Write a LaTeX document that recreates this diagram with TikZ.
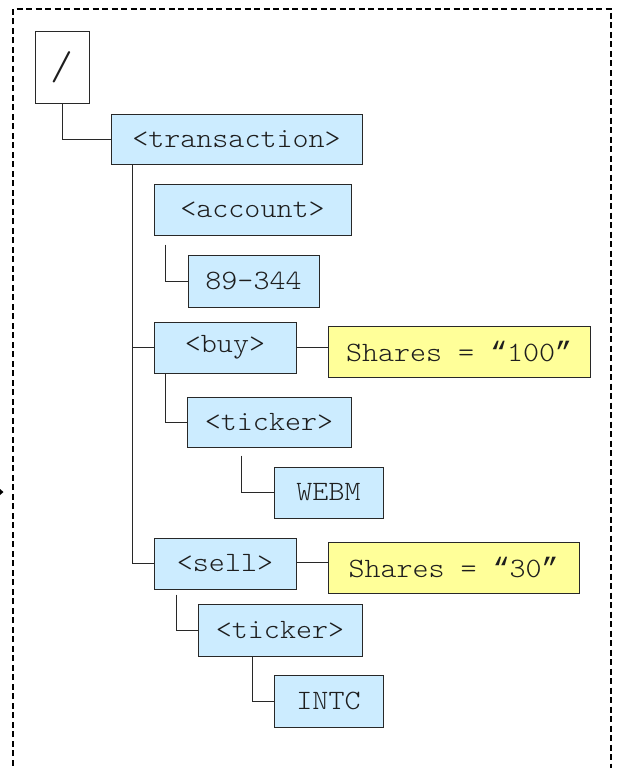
\documentclass[tikz,border=0pt]{standalone}
\usepackage{fontspec}
\newfontfamily\codefont{lmmonolt10-regular.otf}[FakeStretch=1.09]
\newfontfamily\quotefont{Liberation Mono}
\newcommand{\oq}{{\quotefont“}}
\newcommand{\cq}{{\quotefont”}}
\usetikzlibrary{calc}
\definecolor{elemfill}{RGB}{204,236,255}
\definecolor{attrfill}{RGB}{255,255,153}
\definecolor{edge}{RGB}{40,40,40}
\definecolor{ink}{RGB}{30,30,30}
\tikzset{
  treebox/.style={draw=edge, line width=1pt, inner sep=0pt, text=ink,
    font=\codefont\fontsize{28}{30}\selectfont},
  elem/.style={treebox, fill=elemfill},
  attr/.style={treebox, fill=attrfill},
  link/.style={draw=edge, line width=1pt},
  frame/.style={draw=black, line width=1.6pt, dash pattern=on 6pt off 3.5pt}
}
\begin{document}
\begin{tikzpicture}[x=1pt,y=-1pt]
\useasboundingbox (0,0) rectangle (619,768);
% dashed enclosing frame (continues below the visible area)
\draw[frame] (13,775) -- (13,9) -- (611,9) -- (611,775);
\fill[black] (0,489) -- (3.5,492) -- (0,495) -- cycle;

% document root
\node[treebox, fill=white, minimum width=54pt, minimum height=71pt,
      font=\codefont\fontsize{40}{44}\selectfont] (root) at (62,67.5) {/};

% element nodes
\node[elem, minimum width=251pt, minimum height=50pt] (trans) at (236.5,139) {<transaction>};
\node[elem, minimum width=197pt, minimum height=51pt] (acct)  at (252.5,209.5) {<account>};
\node[elem, minimum width=131pt, minimum height=52pt] (acctv) at (253.5,281) {89-344};
\node[elem, minimum width=142pt, minimum height=51pt] (buy)   at (225,347.5) {<buy>};
\node[elem, minimum width=164pt, minimum height=50pt] (tickA) at (269,422) {<ticker>};
\node[elem, minimum width=109pt, minimum height=51pt] (webm)  at (328.5,492.5) {WEBM};
\node[elem, minimum width=142pt, minimum height=51pt] (sell)  at (225,563.5) {<sell>};
\node[elem, minimum width=164pt, minimum height=52pt] (tickB) at (280,630) {<ticker>};
\node[elem, minimum width=109pt, minimum height=52pt] (intc)  at (328.5,701) {INTC};

% attribute nodes
\node[attr, minimum width=262pt, minimum height=51pt] (shA) at (459,351.5) {Shares = \oq100\cq};
\node[attr, minimum width=251pt, minimum height=51pt] (shB) at (453.5,567.5) {Shares = \oq30\cq};

% tree connectors
\draw[link] (root.south) |- (trans.west);
\coordinate (spine) at ($(trans.south west)+(22,0)$);
\draw[link] (spine) |- (sell.west);
\draw[link] (spine |- buy.west) -- (buy.west);
\draw[link] ($(acct.south west)+(12,9)$) |- (acctv.west);
\draw[link] ($(buy.south west)+(12,0)$) |- (tickA.west);
\draw[link] ($(tickA.south west)+(55,8)$) |- (webm.west);
\draw[link] ($(sell.south west)+(23,5)$) |- (tickB.west);
\draw[link] ($(tickB.south west)+(55,0)$) |- (intc.west);
\draw[link] (buy.east) -- (buy.east -| shA.west);
\draw[link] ($(sell.east)+(0,-1)$) -- ($(sell.east -| shB.west)+(0,-1)$);
\end{tikzpicture}
\end{document}
